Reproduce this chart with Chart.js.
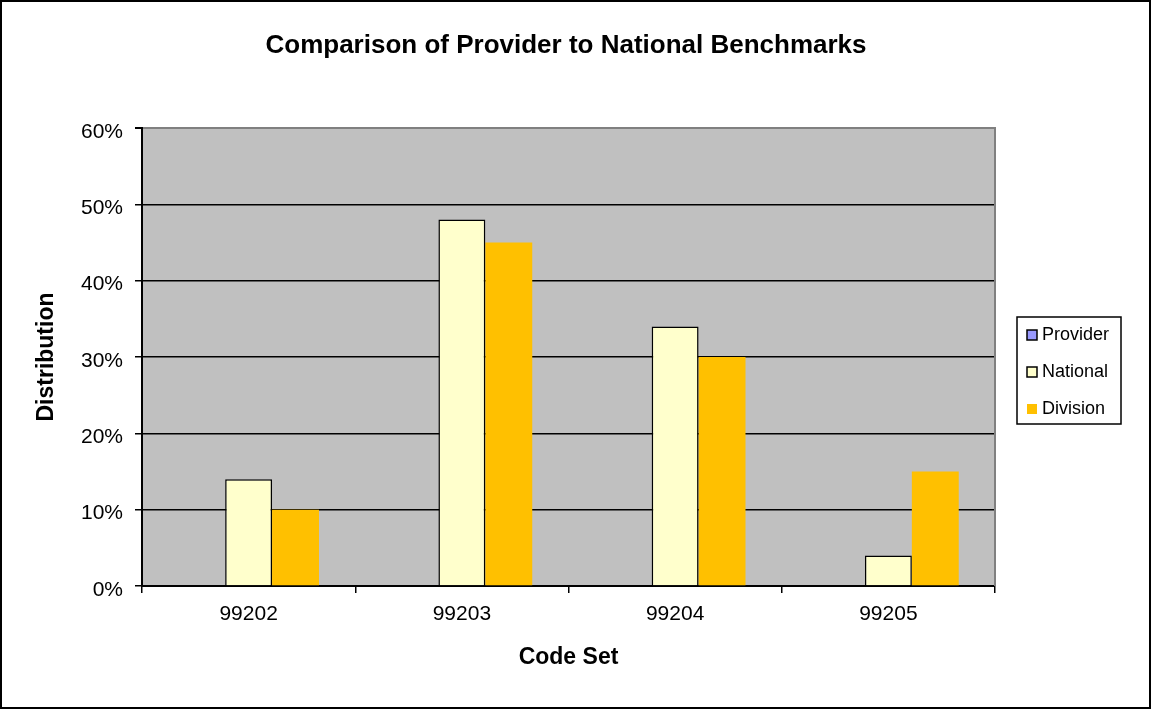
<!DOCTYPE html>
<html>
<head>
<meta charset="utf-8">
<title>Comparison of Provider to National Benchmarks</title>
<script src="https://cdn.jsdelivr.net/npm/chart.js@4.4.1/dist/chart.umd.min.js"></script>
<style>
    html, body { margin: 0; padding: 0; background: #fff; }
    #wrap { width: 1152px; height: 710px; position: relative; }
</style>
</head>
<body>
<div id="wrap"><canvas id="barChart"></canvas></div>
<script>
// Code sets and distribution (percent) per series
const codeSets = ['99202', '99203', '99204', '99205'];
const providerData = [0, 0, 0, 0];
const nationalData = [14, 48, 34, 4];
const divisionData = [10, 45, 30, 15];
const yTicks = [0, 10, 20, 30, 40, 50, 60];

Chart.defaults.font.family = '"Liberation Sans", Arial, sans-serif';
Chart.defaults.color = '#000';

// Gray plot background, gray right edge, outer frame, title and boxed legend
const decorations = {
    id: 'decorations',
    beforeDraw(chart) {
        const { ctx, chartArea: a } = chart;
        ctx.save();
        ctx.fillStyle = '#fff';
        ctx.fillRect(0, 0, chart.width, chart.height);
        ctx.fillStyle = '#c0c0c0';
        ctx.fillRect(a.left, a.top, a.right - a.left, a.bottom - a.top);
        ctx.restore();
    },
    afterDraw(chart) {
        const { ctx, chartArea: a } = chart;
        ctx.save();
        // right edge of plot
        ctx.strokeStyle = '#808080';
        ctx.lineWidth = 2;
        ctx.beginPath();
        ctx.moveTo(a.right, a.top - 1);
        ctx.lineTo(a.right, a.bottom);
        ctx.stroke();

        // outer frame
        ctx.strokeStyle = '#000';
        ctx.lineWidth = 2;
        ctx.strokeRect(1, 1, chart.width - 3, chart.height - 3);

        // title
        ctx.fillStyle = '#000';
        ctx.font = 'bold 26px "Liberation Sans", Arial, sans-serif';
        ctx.textAlign = 'center';
        ctx.textBaseline = 'middle';
        ctx.fillText('Comparison of Provider to National Benchmarks', 566, 46);

        // legend
        ctx.lineWidth = 1.5;
        ctx.strokeRect(1017, 317, 104, 107);
        ctx.font = '18px "Liberation Sans", Arial, sans-serif';
        ctx.textAlign = 'left';
        chart.data.datasets.forEach((ds, i) => {
            const cy = 335 + i * 37;
            ctx.fillStyle = ds.backgroundColor;
            ctx.fillRect(1027, cy - 5, 10, 10);
            if (ds.borderWidth) {
                ctx.strokeStyle = '#000';
                ctx.lineWidth = 1.5;
                ctx.strokeRect(1027, cy - 5, 10, 10);
            }
            ctx.fillStyle = '#000';
            ctx.fillText(ds.label, 1042, cy);
        });
        ctx.restore();
    }
};

const ctx = document.getElementById('barChart').getContext('2d');
new Chart(ctx, {
    type: 'bar',
    data: {
        labels: codeSets,
        datasets: [
            {
                label: 'Provider',
                data: providerData,
                backgroundColor: '#9999ff',
                borderColor: '#000',
                borderWidth: 1.5
            },
            {
                label: 'National',
                data: nationalData,
                backgroundColor: '#ffffcc',
                borderColor: '#000',
                borderWidth: 1.5
            },
            {
                label: 'Division',
                data: divisionData,
                backgroundColor: '#ffc000',
                borderWidth: 0
            }
        ]
    },
    options: {
        responsive: true,
        maintainAspectRatio: false,
        animation: false,
        layout: {
            padding: { top: 128, right: 157, bottom: 0, left: 0 }
        },
        datasets: {
            bar: {
                categoryPercentage: 0.66,
                barPercentage: 1.0
            }
        },
        scales: {
            x: {
                afterFit: (scale) => { scale.height = 124; },
                grid: {
                    offset: true,
                    drawOnChartArea: false,
                    color: '#000',
                    tickLength: 7,
                    lineWidth: 1.5
                },
                border: { color: '#000', width: 2 },
                ticks: {
                    font: { size: 21 },
                    padding: 9
                },
                title: {
                    display: true,
                    text: 'Code Set',
                    font: { size: 23, weight: 'bold' },
                    padding: { bottom: 39 }
                }
            },
            y: {
                min: 0,
                max: 60,
                afterFit: (scale) => { scale.width = 142; },
                afterBuildTicks: (scale) => {
                    scale.ticks = yTicks.map(v => ({ value: v }));
                },
                grid: {
                    color: (c) => (c.tick && c.tick.value === 60 ? '#808080' : '#000'),
                    lineWidth: (c) => (c.tick && c.tick.value === 60 ? 2 : 1.5),
                    tickColor: '#000',
                    tickLength: 7
                },
                border: { color: '#000', width: 2 },
                ticks: {
                    font: { size: 21 },
                    padding: 12,
                    labelOffset: 4,
                    callback: (v) => v + '%'
                },
                title: {
                    display: true,
                    text: 'Distribution',
                    font: { size: 23, weight: 'bold' },
                    padding: { top: 33 }
                }
            }
        },
        plugins: {
            legend: { display: false },
            tooltip: { enabled: false }
        }
    },
    plugins: [decorations]
});
</script>
</body>
</html>
